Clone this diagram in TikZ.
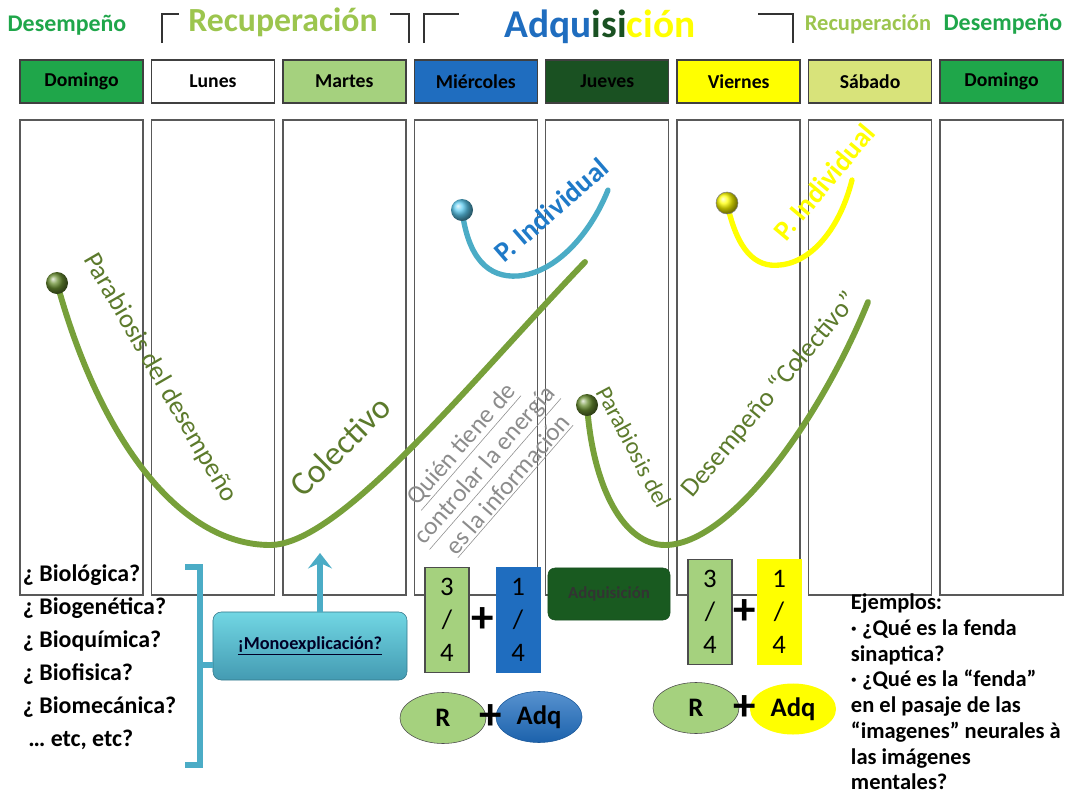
\documentclass[tikz,border=0pt]{standalone}
\usepackage{fontspec}
\setmainfont{Carlito}
\usetikzlibrary{shapes.geometric,arrows.meta,positioning}

\definecolor{domgreen}{HTML}{1FA64A}
\definecolor{recgreen}{HTML}{9CC54E}
\definecolor{margreen}{HTML}{A5D17E}
\definecolor{mieblue}{HTML}{1F6DBF}
\definecolor{juegreen}{HTML}{1A5122}
\definecolor{vieyellow}{HTML}{FFFF00}
\definecolor{sabyellow}{HTML}{D8E37A}
\definecolor{trailgreen}{HTML}{77A03A}
\definecolor{labelgreen}{HTML}{5C7A2C}
\definecolor{skyblue}{HTML}{4BACC6}
\definecolor{pindblue}{HTML}{1F7AC8}
\definecolor{knobgreen}{HTML}{6A8F32}
\definecolor{knobblue}{HTML}{5CCBF0}

\tikzstyle{daybox}=[
	draw=black!75,
	line width=1pt,
	minimum width=3.075cm,
	minimum height=1.075cm,
	inner sep=0pt,
	font=\fontsize{14}{14}\selectfont\bfseries
]
\tikzstyle{colbox}=[
	draw=black!65,
	line width=1pt,
	minimum width=3.075cm,
	minimum height=11.875cm,
	inner sep=0pt
]
\tikzstyle{hbrack} = [draw=black!80,line width=2pt]
\tikzstyle{trail} = [draw=trailgreen,line width=4.2pt,line cap=round]
\tikzstyle{knob} = [circle,shading=ball,minimum size=0.55cm,inner sep=0pt]
\tikzstyle{trailtext} = [text=labelgreen,font=\fontsize{19}{19}\selectfont]
\tikzstyle{fracbox} = [draw=black!70,line width=0.8pt,minimum width=1.1cm,minimum height=2.625cm,
	inner sep=0pt,align=center,font=\fontsize{19}{23.5}\selectfont]
\tikzstyle{plusmark} = [font=\fontsize{32}{32}\selectfont\bfseries,inner sep=0pt]
\tikzstyle{oval} = [ellipse,minimum width=2.15cm,minimum height=1.275cm,inner sep=0pt,
	font=\fontsize{19}{19}\selectfont\bfseries]
\tikzstyle{bracket} = [draw=skyblue,line width=3.6pt]

\begin{document}
\begin{tikzpicture}[x=0.025cm, y=-0.025cm, node distance=3.285cm]
\useasboundingbox (0,0) rectangle (1068,796);

\node[text=domgreen,font=\fontsize{17}{17}\selectfont\bfseries] (desL) at (67,25) {Desempeño};
\node[text=recgreen,font=\fontsize{24}{24}\selectfont\bfseries] (recL) at (283,22) {Recuperación};
\node[font=\fontsize{28}{28}\selectfont\bfseries] (adqT) at (600,27)
	{\textcolor{mieblue}{Adqu}\textcolor{juegreen}{isi}\textcolor{vieyellow}{ción}};
\node[text=recgreen,font=\fontsize{16}{16}\selectfont\bfseries] (recR) at (868,24) {Recuperación};
\node[text=domgreen,font=\fontsize{17}{17}\selectfont\bfseries] (desR) at (1003,24) {Desempeño};

\draw[hbrack] (162,43) -- (162,14) -- (179,14);
\draw[hbrack] (390,14) -- (409,14) -- (409,43);
\draw[hbrack] (424,43) -- (424,14) -- (459,14);
\draw[hbrack] (758,14) -- (793,14) -- (793,43);

\node[daybox,fill=domgreen] (dom) at (81.5,81.5) {Domingo};
\node[daybox,fill=white] (lun) [right of=dom] {Lunes};
\node[daybox,fill=margreen] (mar) [right of=lun] {Martes};
\node[daybox,fill=mieblue] (mie) [right of=mar] {Miércoles};
\node[daybox,fill=juegreen] (jue) [right of=mie] {Jueves};
\node[daybox,fill=vieyellow] (vie) [right of=jue] {Viernes};
\node[daybox,fill=sabyellow] (sab) [right of=vie] {Sábado};
\node[daybox,fill=domgreen] (domB) [right of=sab] {Domingo};

\node[colbox] (col1) at (81.5,357.5) {};
\node[colbox] (col2) [right of=col1] {};
\node[colbox] (col3) [right of=col2] {};
\node[colbox] (col4) [right of=col3] {};
\node[colbox] (col5) [right of=col4] {};
\node[colbox] (col6) [right of=col5] {};
\node[colbox] (col7) [right of=col6] {};
\node[colbox] (col8) [right of=col7] {};

\coordinate (startA) at (57,283);
\coordinate (endA) at (585,262);
\coordinate (startB) at (462,210);
\coordinate (endB) at (608,190);
\coordinate (startC) at (727,203);
\coordinate (endC) at (852,180);
\coordinate (startD) at (587,405);
\coordinate (endD) at (868,302);

\draw[trail] (startA) .. controls (100,440) and (180,545) .. (270,545)
	.. controls (340,545) and (470,382) .. (endA);
\draw[trail,draw=skyblue,line width=3.8pt] (startB) .. controls (468,258) and (488,278) .. (518,276)
	.. controls (555,273) and (590,235) .. (endB);
\draw[trail,draw=vieyellow,line width=3.8pt] (startC) .. controls (737,250) and (755,268) .. (780,265)
	.. controls (812,262) and (840,228) .. (endC);
\draw[trail] (startD) .. controls (593,490) and (625,545) .. (665,545)
	.. controls (730,545) and (820,420) .. (endD);

\node[knob,ball color=knobgreen] (knobA) at (startA) {};
\node[knob,ball color=knobblue] (knobB) at (startB) {};
\node[knob,ball color=vieyellow,draw=black!50,thin] (knobC) at (startC) {};
\node[knob,ball color=knobgreen] (knobD) at (startD) {};

\node[trailtext,rotate=-60] (parabA) at (160,378) {Parabiosis del desempeño};
\node[trailtext,font=\fontsize{24}{24}\selectfont,rotate=45] (colect) at (340,446) {Colectivo};
\node[text=pindblue,font=\fontsize{20}{20}\selectfont\bfseries,rotate=41] (pindA) at (551,210) {P. Individual};
\node[text=vieyellow,font=\fontsize{20}{20}\selectfont\bfseries,rotate=50] (pindB) at (824,182) {P. Individual};
\node[text=black!45,font=\fontsize{18}{22}\selectfont,align=center,rotate=49] (quien) at (485,465)
	{\underline{Quién tiene de}\\ \underline{controlar la energía}\\ \underline{es la información}};
\node[trailtext,font=\fontsize{17}{17}\selectfont,rotate=-62] (parabB) at (634,447) {Parabiosis del};
\node[trailtext,rotate=50] (desCol) at (770,395) {Desempeño “Colectivo”};

\node[anchor=west,align=left,font=\fontsize{17}{23.5}\selectfont\bfseries] (biolist) at (18,657)
	{¿ Biológica?\\ ¿ Biogenética?\\ ¿ Bioquímica?\\ ¿ Biofisica?\\ ¿ Biomecánica?\\ \ … etc, etc?};

\coordinate (brtop) at (185,567);
\coordinate (brtopR) at (200,567);
\coordinate (brbotR) at (200,765);
\coordinate (brbot) at (185,765);
\coordinate (brmid) at (200,665);
\draw[bracket] (brtop) -- (brtopR) -- (brbotR) -- (brbot);

\node[draw=skyblue!70!black,rounded corners=6pt,top color=skyblue!70!cyan!70,bottom color=skyblue!90!black,
	minimum width=4.85cm,minimum height=1.7cm,font=\fontsize{13}{13}\selectfont\bfseries,text=black!85!blue]
	(mono) at (310,646) {\underline{¡Monoexplicación?}};
\draw[bracket] (brmid) -- (brmid -| mono.west);
\coordinate (arrtip) at (320,553);
\draw[draw=skyblue,line width=3.6pt,-{Stealth[length=11pt,width=17pt,inset=4pt]}] (mono.north -| arrtip) -- (arrtip);

\node[fracbox,fill=margreen] (fracA) at (447,620) {3\\/\\4};
\node[fracbox,fill=mieblue,draw=mieblue] (fracB) [right=0.65cm of fracA] {1\\/\\4};
\path (fracA) -- node[plusmark] {+} (fracB);

\node[oval,draw=black!70,fill=margreen] (rA) at (443,718) {R};
\node[oval,draw=mieblue!80!black,top color=mieblue!75,bottom color=mieblue!90!black] (adqA) at (539,717) {Adq};
\path (rA) -- node[plusmark] {+} (adqA);

\node[draw=juegreen,rounded corners=5pt,fill=juegreen!95!green,minimum width=3.05cm,minimum height=1.3cm,
	font=\fontsize{12}{12}\selectfont\bfseries,text=black!80] (adqbox) at (609,594) {Adquisición};

\node[fracbox,fill=margreen] (fracC) at (710,612) {3\\/\\4};
\node[fracbox,fill=vieyellow,draw=vieyellow] (fracD) [right=0.6cm of fracC] {1\\/\\4};
\path (fracC) -- node[plusmark] {+} (fracD);

\node[oval,draw=black!70,fill=margreen] (rB) at (696,708) {R};
\node[oval,fill=vieyellow] (adqB) at (793,709) {Adq};
\path (rB) -- node[plusmark] {+} (adqB);

\node[anchor=west,align=left,font=\fontsize{16}{18.3}\selectfont\bfseries] (ejem) at (846,692)
	{Ejemplos:\\ · ¿Qué es la fenda\\ sinaptica?\\ · ¿Qué es la “fenda”\\ en el pasaje de las\\
	 “imagenes” neurales à\\ las imágenes\\ mentales?};

\end{tikzpicture}
\end{document}
